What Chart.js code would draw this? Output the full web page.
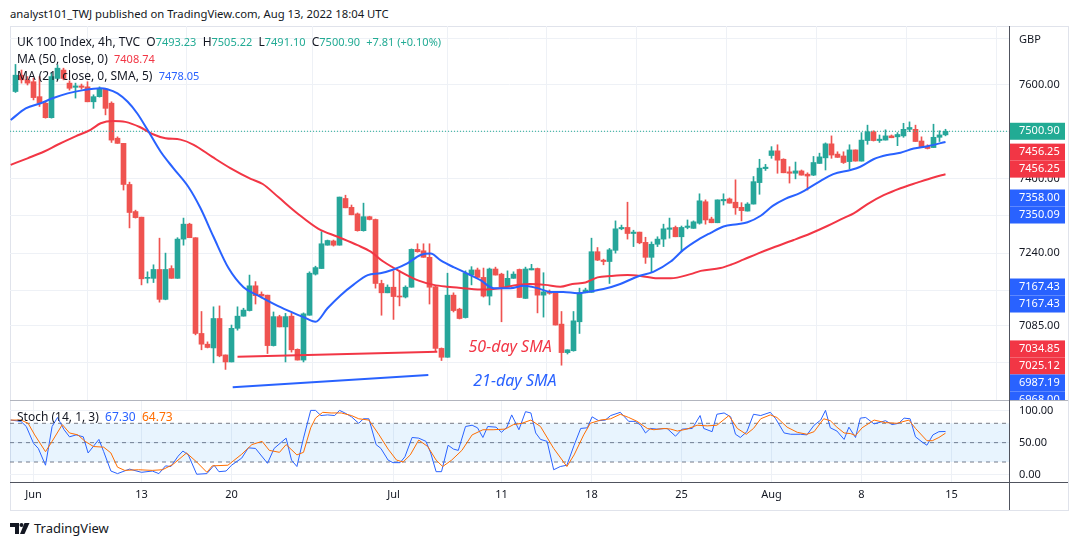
<!DOCTYPE html>
<html>
<head>
<meta charset="utf-8">
<script src="https://cdn.jsdelivr.net/npm/chart.js@4.4.1/dist/chart.umd.min.js"></script>
<style>
  body { margin:0; background:#fff; width:1079px; height:545px; overflow:hidden; position:relative;
         font-family:'Noto Sans', sans-serif; color:#131722; }
  .abs { position:absolute; }
  #frame { left:10px; top:26px; width:1059px; height:485px; border:1px solid #e0e3eb; box-sizing:border-box; }
  .leg { position:absolute; left:17px; font-size:12px; line-height:16px; white-space:pre; color:#131722; z-index:5; }
  .leg span { font-size:11px; }
  .g { color:#22ab94; }
</style>
</head>
<body>
<div class="abs" style="left:10px;top:6px;font-size:11.3px;line-height:16px">analyst101_TWJ published on TradingView.com, Aug 13, 2022 18:04 UTC</div>
<div id="frame" class="abs"></div>
<canvas id="price" width="1058" height="374" class="abs" style="left:10px;top:26px"></canvas>
<canvas id="stoch" width="1058" height="110" class="abs" style="left:10px;top:400px"></canvas>
<div class="abs" style="left:10px;top:400px;width:1058px;height:1px;background:#b2b5be"></div>
<div class="abs" style="left:10px;top:482px;width:1058px;height:1px;background:#50535e"></div>
<div class="abs" style="left:1009px;top:26px;width:1px;height:484px;background:#50535e"></div>
<div id="leg1" class="leg" style="top:34px"></div>
<div id="leg2" class="leg" style="top:51px"></div>
<div id="leg3" class="leg" style="top:68px"></div>
<div id="leg4" class="leg" style="top:409px"></div>
<div class="abs" style="left:10px;top:521px;display:flex;align-items:center">
  <svg width="20" height="11" viewBox="0 0 20 11"><path d="M0 0H9V11H5V4H0Z" fill="#131722"/><circle cx="11.5" cy="2" r="2" fill="#131722"/><path d="M14.5 0H19.5L14.5 11H10Z" fill="#131722"/></svg>
  <span style="margin-left:4px;font-size:13px;line-height:14px">TradingView</span>
</div>
<script>
const FONT = "'Noto Sans', sans-serif";

// 4h candles, May 31 - Aug 12 2022
const opens = [7586,7621,7611,7607,7575,7561,7530,7614,7632,7604,7595,7598,7596,7564,7575,7591,7561,7486,7475,7387,
  7329,7317,7186,7186,7205,7141,7207,7186,7270,7302,7273,7068,7045,7037,7100,7022,7007,7079,7105,7117,
  7170,7152,7150,7042,7104,7082,7105,7034,7011,7107,7195,7207,7257,7266,7257,7357,7338,7324,7288,7318,
  7312,7175,7155,7167,7148,7146,7167,7248,7245,7231,7168,7036,7017,7150,7120,7102,7193,7204,7188,7148,
  7206,7195,7168,7186,7205,7143,7204,7207,7150,7157,7155,7088,7027,7031,7093,7155,7156,7243,7225,7222,
  7246,7292,7295,7282,7285,7263,7231,7259,7270,7291,7295,7275,7295,7293,7304,7350,7313,7305,7352,7356,
  7349,7338,7330,7345,7391,7421,7449,7459,7441,7414,7411,7416,7409,7407,7432,7444,7474,7452,7448,7436,
  7461,7437,7481,7500,7481,7482,7491,7489,7491,7505,7505,7480,7469,7466,7488,7493.23];
const highs = [7644,7632,7618,7615,7618,7564,7626,7643,7636,7609,7604,7602,7607,7579,7596,7593,7564,7489,7475,7392,
  7332,7317,7200,7215,7272,7240,7213,7273,7315,7304,7273,7115,7050,7125,7127,7022,7086,7125,7122,7193,
  7179,7157,7150,7114,7107,7111,7111,7035,7112,7200,7212,7286,7268,7268,7360,7364,7343,7326,7347,7319,
  7313,7182,7172,7202,7202,7170,7249,7260,7260,7260,7170,7037,7197,7155,7122,7202,7211,7208,7208,7208,
  7210,7197,7202,7200,7206,7210,7216,7208,7198,7161,7157,7115,7033,7115,7165,7165,7272,7252,7227,7250,
  7309,7300,7349,7289,7285,7274,7264,7275,7302,7315,7298,7298,7311,7309,7367,7354,7317,7354,7367,7358,
  7397,7348,7348,7404,7441,7430,7468,7472,7442,7425,7435,7418,7412,7447,7454,7476,7491,7457,7457,7472,
  7461,7498,7514,7502,7493,7504,7493,7498,7518,7521,7514,7489,7472,7516,7502,7505.22];
const lows = [7584,7604,7600,7568,7554,7529,7529,7611,7611,7589,7572,7591,7564,7550,7574,7536,7477,7475,7375,7294,
  7315,7172,7176,7177,7135,7140,7186,7186,7257,7273,7065,7033,7037,7005,7018,6991,7007,7075,7105,7116,
  7131,7144,7025,7041,7082,7007,7028,7011,7007,7107,7193,7207,7257,7255,7257,7337,7322,7287,7287,7311,
  7165,7107,7155,7098,7127,7144,7167,7242,7231,7131,7029,7010,7017,7114,7099,7101,7172,7187,7146,7129,
  7193,7093,7167,7186,7145,7143,7204,7112,7103,7152,7086,7000,7024,7030,7068,7155,7156,7224,7215,7175,
  7240,7290,7270,7254,7260,7218,7200,7254,7254,7272,7275,7243,7292,7293,7302,7302,7305,7305,7343,7347,
  7323,7309,7330,7345,7366,7417,7443,7411,7412,7390,7399,7407,7375,7406,7432,7418,7443,7445,7432,7420,
  7437,7437,7473,7480,7477,7482,7487,7470,7488,7500,7479,7467,7463,7466,7479,7491.10];
const closes = [7621,7611,7604,7573,7561,7530,7618,7636,7614,7593,7598,7595,7564,7575,7593,7550,7482,7475,7387,7327,
  7316,7185,7188,7205,7141,7205,7186,7270,7302,7273,7068,7045,7038,7100,7020,7007,7079,7105,7118,7170,
  7149,7148,7042,7104,7082,7104,7033,7011,7110,7197,7209,7260,7267,7257,7360,7337,7322,7288,7318,7312,
  7175,7155,7167,7147,7146,7167,7248,7243,7231,7167,7036,7017,7150,7117,7100,7197,7204,7188,7148,7206,
  7193,7168,7186,7195,7145,7206,7207,7150,7157,7154,7086,7027,7033,7095,7155,7161,7243,7225,7222,7247,
  7292,7295,7282,7285,7262,7231,7259,7270,7292,7294,7275,7295,7298,7307,7352,7311,7305,7354,7355,7347,
  7337,7331,7345,7393,7422,7424,7459,7439,7412,7411,7416,7407,7405,7434,7446,7474,7450,7445,7434,7461,
  7437,7482,7500,7481,7484,7491,7487,7494,7505,7509,7479,7468,7464,7488,7493.09,7500.90];

// moving averages: [bar index, price]
const ma50 = [[-0.8,7429],[2,7443],[4.7,7457],[7,7472],[10,7490],[12.5,7504],[14.2,7518],[16.2,7523],[18.3,7521],[20.7,7510],
  [22.8,7495],[25,7486],[27.5,7483],[29.7,7472],[32.8,7446],[35.8,7422],[39.2,7399],[41.2,7388],[43.8,7360],[47,7325],
  [50.5,7292],[53.7,7275],[57,7257],[59.2,7243],[61.3,7222],[64.2,7200],[67.2,7181],[69.7,7172],[72,7168],[74.7,7165],
  [78,7162],[80.8,7165],[83.7,7172],[85.8,7174],[88.3,7172],[90.8,7168],[92.8,7174],[95,7177],[97,7188],[99.2,7191],
  [102,7193],[104.2,7191],[107,7186],[109.2,7186],[112.5,7195],[114.2,7202],[117.5,7208],[119.2,7215],[121.3,7226],[123.7,7239],
  [126.3,7252],[129.7,7268],[132.5,7282],[135.3,7298],[138,7315],[139.7,7325],[142,7345],[144.7,7364],[147.5,7379],[150.3,7391],
  [153,7402],[155,7408.74]];
const ma21 = [[-0.8,7525],[1.7,7550],[4.2,7561],[6.3,7572],[8.7,7582],[11.3,7589],[14.2,7593],[15.3,7591],[17,7582],[18.7,7564],
  [20.3,7539],[22,7504],[24.2,7457],[26.3,7422],[28.8,7382],[30.8,7337],[33,7275],[35.5,7208],[38,7167],[40.3,7150],
  [43.7,7127],[46.3,7112],[48,7103],[50,7093],[52,7122],[54.2,7150],[56.3,7172],[58.7,7193],[60.8,7197],[63,7205],
  [65.3,7218],[67.5,7236],[69.2,7239],[70.8,7225],[73,7210],[74.7,7200],[77.5,7182],[79.7,7165],[82.5,7165],[84.7,7170],
  [87,7165],[89.2,7157],[91.3,7157],[93.7,7154],[95.8,7158],[98,7163],[100.8,7174],[103.7,7190],[106.3,7200],[109.2,7222],
  [111.3,7247],[113.8,7269],[115.8,7283],[118,7297],[120.3,7302],[122,7306],[124.2,7320],[126.2,7341],[128.3,7356],[130.8,7369],
  [133.7,7391],[136.3,7409],[139.2,7418],[140.8,7425],[143,7441],[145.3,7450],[147.5,7455],[149.7,7464],[152,7469],[155,7478.05]];

// hand-drawn trend lines and their captions
const redTrend = [[37,7018],[70.3,7029]];
const blueTrend = [[36.2,6953],[68.8,6979]];
const notes = [
  {text:'50-day SMA', x:75.5, y:7037, color:'#f23645'},
  {text:'21-day SMA', x:76.3, y:6966, color:'#2962ff'}
];

// stochastic (14, 1, 3)
const stochK = [[-0.8,85],[0.9,83],[1.8,75],[3,49],[3.8,41],[5,15],[6.1,75],[7,89],[8.1,70],[9,59],[10.1,62],[11.3,59],[12.1,34],
  [13.9,55],[14.7,36],[15.9,6],[17,2],[19,9],[21,4],[22.8,6],[23.9,2],[25,14],[25.9,13],[27.1,29],[27.9,37],[28.8,31],[30.2,1],
  [31.9,2],[33.1,15],[33.9,5],[35.1,6],[36,15],[37.7,26],[38.8,42],[40,41],[42,18],[43.1,41],[45.1,57],[46,23],[46.9,13],[48,57],
  [49.2,100],[50,100],[50.9,92],[52,93],[53.2,92],[54,100],[54.9,96],[56,90],[57.2,80],[58,87],[58.9,87],[60.1,47],[60.9,41],
  [62.1,23],[62.9,19],[64.1,19],[64.9,28],[66.1,58],[67.2,57],[68.4,52],[69.2,34],[70.1,5],[71,5],[72.1,46],[73,40],[73.8,38],
  [75,75],[76.1,77],[77,73],[77.9,58],[78.7,75],[80.1,74],[81,66],[81.9,74],[82.7,93],[83.9,70],[85,98],[85.9,96],[86.7,65],
  [87.5,55],[88.6,52],[89.7,8],[90.8,13],[91.9,15],[93.1,46],[94.2,72],[95.3,73],[96.1,90],[97.2,84],[98.3,85],[99.2,92],
  [100.8,97],[102.2,83],[103.3,83],[104.2,77],[105,65],[105.8,72],[106.9,71],[108.6,72],[110,60],[111.1,71],[112.8,72],
  [114.1,92],[114.7,72],[116.1,67],[116.9,94],[118.1,96],[119.2,90],[120,63],[120.8,58],[121.9,67],[123,94],[124.2,92],
  [125.8,97],[126.7,87],[128.1,65],[129.2,63],[130.8,63],[131.9,62],[133.1,77],[134.2,85],[135,100],[135.8,73],[136.9,68],
  [138.1,55],[138.9,74],[140,58],[140.8,88],[141.7,89],[143.1,79],[145,84],[146.1,78],[147.2,80],[148.1,88],[149.1,87],
  [150,59],[151.1,51],[151.9,46],[152.9,62],[153.9,67],[155,67.30]];
const stochD = [[-0.8,85],[0.9,85],[2.1,80],[3.2,62],[5,36],[6.1,52],[7.8,78],[9,65],[10.4,62],[11.6,52],[13,44],[14.7,43],
  [15.9,34],[17,12],[18.2,7],[20.5,8],[22.8,7],[24.5,8],[26.2,16],[28.5,34],[30.2,20],[31.9,4],[32.8,14],[35.4,15],[37.7,32],
  [39.4,47],[41.1,52],[42.3,38],[44,35],[45.1,47],[46.9,31],[48,35],[49.2,73],[50,88],[51.2,97],[52.6,96],[54.3,96],[56,92],
  [57.2,87],[58.9,85],[60.6,62],[62.1,40],[63.5,23],[64.6,20],[65.8,31],[67.2,54],[68.7,44],[70.1,23],[71.2,13],[72.7,23],
  [74.4,38],[76.1,62],[77.9,70],[79.6,70],[81.6,71],[83,78],[84.4,80],[85.9,85],[87.5,75],[89.7,41],[91.9,13],[93.1,31],
  [94.7,62],[95.8,80],[97.5,85],[99.2,87],[100.8,94],[102.2,89],[103.6,83],[105.3,72],[106.4,70],[108.1,72],[109.2,71],
  [110.3,68],[111.9,71],[113.6,77],[115.3,76],[116.9,77],[118.9,92],[120.3,72],[121.8,63],[123,72],[124.2,87],[125.8,93],
  [126.9,89],[128.6,74],[130.3,66],[131.9,63],[133.1,67],[134.7,87],[135.8,84],[136.9,74],[138.1,65],[139.2,64],[140,61],
  [141.1,73],[143.1,85],[145,81],[146.9,80],[148.9,85],[150,72],[151.9,53],[152.8,53],[153.9,58],[155,64.73]];

// axes
const dateTickIdx = [3,21,36,63,81,96,111,126,141,156];
const dateTickLabels = ['Jun','13','20','Jul','11','18','25','Aug','8','15'];
const priceTicks = [7700,7600,7500,7400,7320,7240,7160,7085,7005];
const stochTicks = [100,50,0];
const priceTags = [
  {value:7500.90, color:'#22ab94'},
  {value:7456.25, color:'#f23645'}, {value:7456.25, color:'#f23645'},
  {value:7358.00, color:'#2962ff'}, {value:7350.09, color:'#2962ff'},
  {value:7167.43, color:'#2962ff'}, {value:7167.43, color:'#2962ff'},
  {value:7034.85, color:'#f23645'}, {value:7025.12, color:'#f23645'},
  {value:6987.19, color:'#2962ff'}, {value:6968.00, color:'#2962ff'}
];

const xMin = -5.5 / 6, xMax = xMin + 999 / 6;
const priceMin = 6925.5, priceMax = 7726.3;
const GREEN = '#26a69a', RED = '#ef5350', GRID = '#eef1f6';

const pts = arr => arr.map(([x, y]) => ({x, y}));
const colors = closes.map((c, i) => c >= opens[i] ? GREEN : RED);
const wicks = closes.map((c, i) => ({x: i, y: [lows[i], highs[i]]}));
const bodies = closes.map((c, i) => ({x: i, y: [opens[i], c]}));
const last = closes.length - 1;
const lastClose = closes[last];

// legends
const chg = lastClose - closes[last - 1];
document.getElementById('leg1').innerHTML = 'UK 100 Index, 4h, TVC  O<span class="g">' + opens[last].toFixed(2) +
  '</span>  H<span class="g">' + highs[last].toFixed(2) + '</span>  L<span class="g">' + lows[last].toFixed(2) +
  '</span>  C<span class="g">' + lastClose.toFixed(2) + '</span>  <span class="g">+' + chg.toFixed(2) +
  ' (+' + (chg / closes[last - 1] * 100).toFixed(2) + '%)</span>';
document.getElementById('leg2').innerHTML = 'MA (50, close, 0)  <span style="color:#f23645">' + ma50[ma50.length - 1][1].toFixed(2) + '</span>';
document.getElementById('leg3').innerHTML = 'MA (21, close, 0, SMA, 5)  <span style="color:#2962ff">' + ma21[ma21.length - 1][1].toFixed(2) + '</span>';
document.getElementById('leg4').innerHTML = 'Stoch (14, 1, 3)  <span style="color:#2962ff;font-size:12px">' + stochK[stochK.length - 1][1].toFixed(2) +
  '</span>  <span style="color:#ff6d00;font-size:12px">' + stochD[stochD.length - 1][1].toFixed(2) + '</span>';

const priceAxisLabels = {
  id: 'priceAxisLabels',
  afterDraw(chart) {
    const {ctx, chartArea, scales} = chart;
    const y = scales.y, x = scales.x, left = chartArea.right;
    ctx.save();
    ctx.textBaseline = 'middle';
    ctx.font = '11px ' + FONT;
    ctx.fillStyle = '#131722';
    priceTicks.forEach((v, k) => {
      if (k === 0) ctx.fillText('GBP', left + 10, y.getPixelForValue(v) + 2);
      else ctx.fillText(v.toFixed(2), left + 10, y.getPixelForValue(v));
    });
    let prev = -Infinity;
    priceTags.forEach(t => {
      const py = Math.max(y.getPixelForValue(t.value), prev + 17);
      prev = py;
      ctx.fillStyle = t.color;
      ctx.fillRect(left + 1, py - 8.5, 55, 17);
      ctx.fillStyle = '#fff';
      ctx.fillText(t.value.toFixed(2), left + 10, py);
    });
    ctx.font = 'italic 16px ' + FONT;
    notes.forEach(n => {
      ctx.fillStyle = n.color;
      ctx.fillText(n.text, x.getPixelForValue(n.x), y.getPixelForValue(n.y));
    });
    ctx.restore();
  }
};

const stochAxisLabels = {
  id: 'stochAxisLabels',
  afterDraw(chart) {
    const {ctx, chartArea, scales} = chart;
    ctx.save();
    ctx.textBaseline = 'middle';
    ctx.font = '11px ' + FONT;
    ctx.fillStyle = '#131722';
    stochTicks.forEach(v => ctx.fillText(v.toFixed(2), chartArea.right + 10, scales.y.getPixelForValue(v)));
    ctx.restore();
  }
};

const flat = v => [{x: xMin, y: v}, {x: xMax, y: v}];
const lineDs = (data, color, extra) => Object.assign({type: 'line', data, borderColor: color, borderWidth: 2,
  pointRadius: 0, fill: false}, extra || {});

new Chart(document.getElementById('price'), {
  type: 'bar',
  data: {
    datasets: [
      lineDs(flat(lastClose), '#22ab94', {borderWidth: 1, borderDash: [1, 2], order: 3}),
      lineDs(pts(ma50), '#f23645', {cubicInterpolationMode: 'monotone', order: 1}),
      lineDs(pts(ma21), '#2962ff', {cubicInterpolationMode: 'monotone', order: 0}),
      lineDs(pts(redTrend), '#f23645', {order: 0}),
      lineDs(pts(blueTrend), '#2962ff', {order: 0}),
      {type: 'bar', data: wicks, backgroundColor: colors, barThickness: 1, grouped: false, minBarLength: 1, order: 6},
      {type: 'bar', data: bodies, backgroundColor: colors, barThickness: 5, grouped: false, minBarLength: 1, order: 5}
    ]
  },
  options: {
    responsive: false, animation: false, layout: {padding: 0},
    plugins: {legend: {display: false}, tooltip: {enabled: false}},
    scales: {
      x: {type: 'linear', min: xMin, max: xMax, offset: false,
          afterBuildTicks: s => { s.ticks = dateTickIdx.map(v => ({value: v})); },
          ticks: {display: false}, grid: {color: GRID, drawTicks: false}, border: {display: false}},
      y: {position: 'right', min: priceMin, max: priceMax,
          afterBuildTicks: s => { s.ticks = priceTicks.map(v => ({value: v})); },
          afterFit: s => { s.width = 59; },
          ticks: {display: false}, grid: {color: GRID, drawTicks: false}, border: {display: false}}
    }
  },
  plugins: [priceAxisLabels]
});

new Chart(document.getElementById('stoch'), {
  type: 'line',
  data: {
    datasets: [
      lineDs(pts(stochK), '#2962ff', {borderWidth: 1, order: 1}),
      lineDs(pts(stochD), '#ff6d00', {borderWidth: 1, order: 0}),
      lineDs(flat(80), '#787b86', {borderWidth: 1, borderDash: [4, 4], fill: '+1', backgroundColor: 'rgba(33,150,243,0.1)', order: 3}),
      lineDs(flat(20), '#787b86', {borderWidth: 1, borderDash: [4, 4], order: 3}),
      lineDs(flat(50), '#787b86', {borderWidth: 1, borderDash: [4, 4], order: 3})
    ]
  },
  options: {
    responsive: false, animation: false, layout: {padding: 0},
    plugins: {legend: {display: false}, tooltip: {enabled: false}},
    scales: {
      x: {type: 'linear', min: xMin, max: xMax, offset: false,
          afterBuildTicks: s => { s.ticks = dateTickIdx.map(v => ({value: v})); },
          afterFit: s => { s.height = 28; },
          ticks: {callback: (v, i) => dateTickLabels[i], color: '#131722', font: {size: 11, family: FONT},
                  padding: 6, maxRotation: 0, autoSkip: false},
          grid: {color: GRID, drawTicks: false}, border: {display: false}},
      y: {position: 'right', min: -11, max: 116.1,
          afterBuildTicks: s => { s.ticks = stochTicks.map(v => ({value: v})); },
          afterFit: s => { s.width = 59; },
          ticks: {display: false}, grid: {color: GRID, drawTicks: false}, border: {display: false}}
    }
  },
  plugins: [stochAxisLabels]
});
</script>
</body>
</html>
